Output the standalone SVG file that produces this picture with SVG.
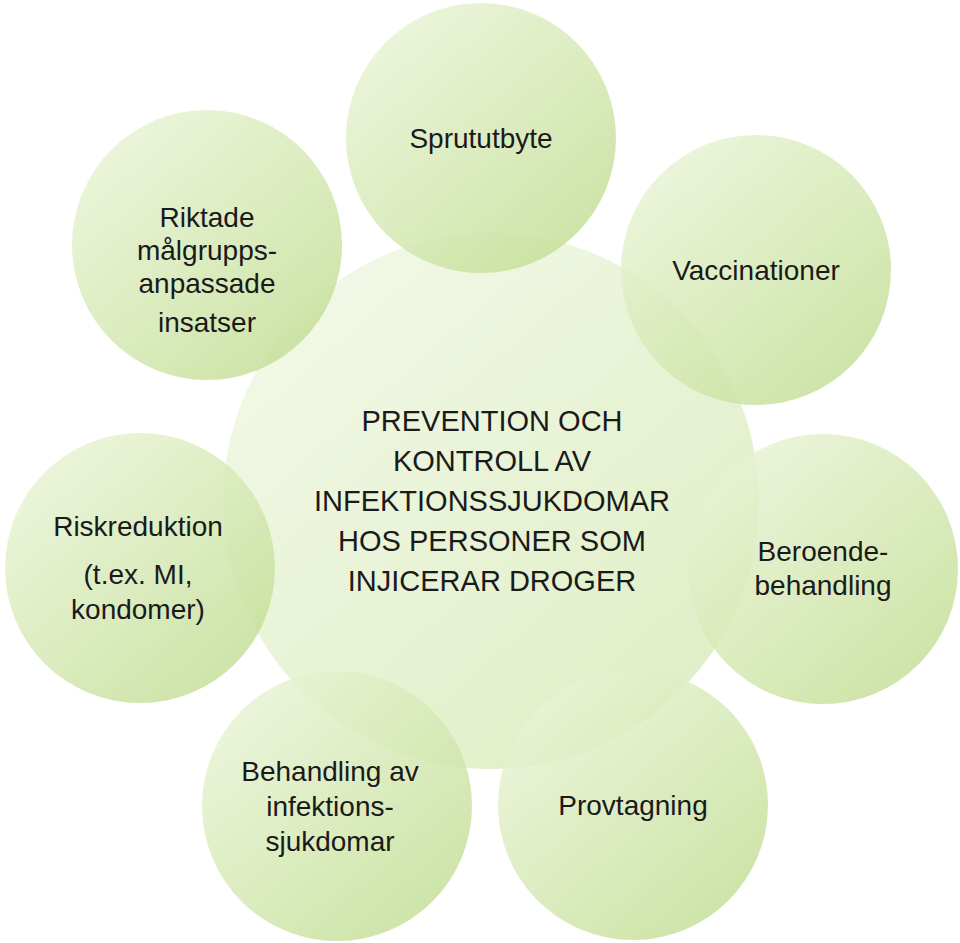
<svg xmlns="http://www.w3.org/2000/svg" width="960" height="943" viewBox="0 0 960 943">
<defs>
<linearGradient id="g" x1="0.15" y1="0.1" x2="0.85" y2="0.9">
<stop offset="0" stop-color="#e8f3d4"/>
<stop offset="1" stop-color="#c5df98"/>
</linearGradient>
<linearGradient id="gc" x1="0.15" y1="0.1" x2="0.85" y2="0.9">
<stop offset="0" stop-color="#f0f7e3"/>
<stop offset="1" stop-color="#dcedc0"/>
</linearGradient>
</defs>
<style>
.o{fill:url(#g);opacity:0.85}
.c{fill:url(#gc);opacity:0.9}
text{font-family:"Liberation Sans",Arial,sans-serif;font-size:28px;fill:#1a1a1a;text-anchor:middle}
.ct{font-size:29px}
</style>
<rect width="960" height="943" fill="#fff"/>
<g id="center"><circle class="c" cx="491" cy="501" r="268"/>
<text class="ct"><tspan x="492" y="431">PREVENTION OCH</tspan><tspan x="492" y="471">KONTROLL AV</tspan><tspan x="492" y="511">INFEKTIONSSJUKDOMAR</tspan><tspan x="492" y="551">HOS PERSONER SOM</tspan><tspan x="492" y="591">INJICERAR DROGER</tspan></text></g>
<g id="sprututbyte"><circle class="o" cx="481" cy="138" r="135"/><text x="481" y="148">Sprututbyte</text></g>
<g id="vaccinationer"><circle class="o" cx="756" cy="270" r="135"/><text x="756" y="280">Vaccinationer</text></g>
<g id="beroende"><circle class="o" cx="823" cy="569" r="135"/><text><tspan x="823" y="561">Beroende-</tspan><tspan x="823" y="595">behandling</tspan></text></g>
<g id="provtagning"><circle class="o" cx="633" cy="805" r="135"/><text x="633" y="815">Provtagning</text></g>
<g id="behandling"><circle class="o" cx="337" cy="806" r="135"/><text><tspan x="330" y="781">Behandling av</tspan><tspan x="330" y="816">infektions-</tspan><tspan x="330" y="851">sjukdomar</tspan></text></g>
<g id="riskreduktion"><circle class="o" cx="140" cy="568" r="135"/><text><tspan x="138" y="536">Riskreduktion</tspan><tspan x="138" y="584">(t.ex. MI,</tspan><tspan x="138" y="619">kondomer)</tspan></text></g>
<g id="riktade"><circle class="o" cx="207" cy="245" r="135"/><text><tspan x="207" y="227">Riktade</tspan><tspan x="207" y="260">målgrupps-</tspan><tspan x="207" y="293">anpassade</tspan><tspan x="207" y="332">insatser</tspan></text></g>
<g id="connectors"/>
</svg>
